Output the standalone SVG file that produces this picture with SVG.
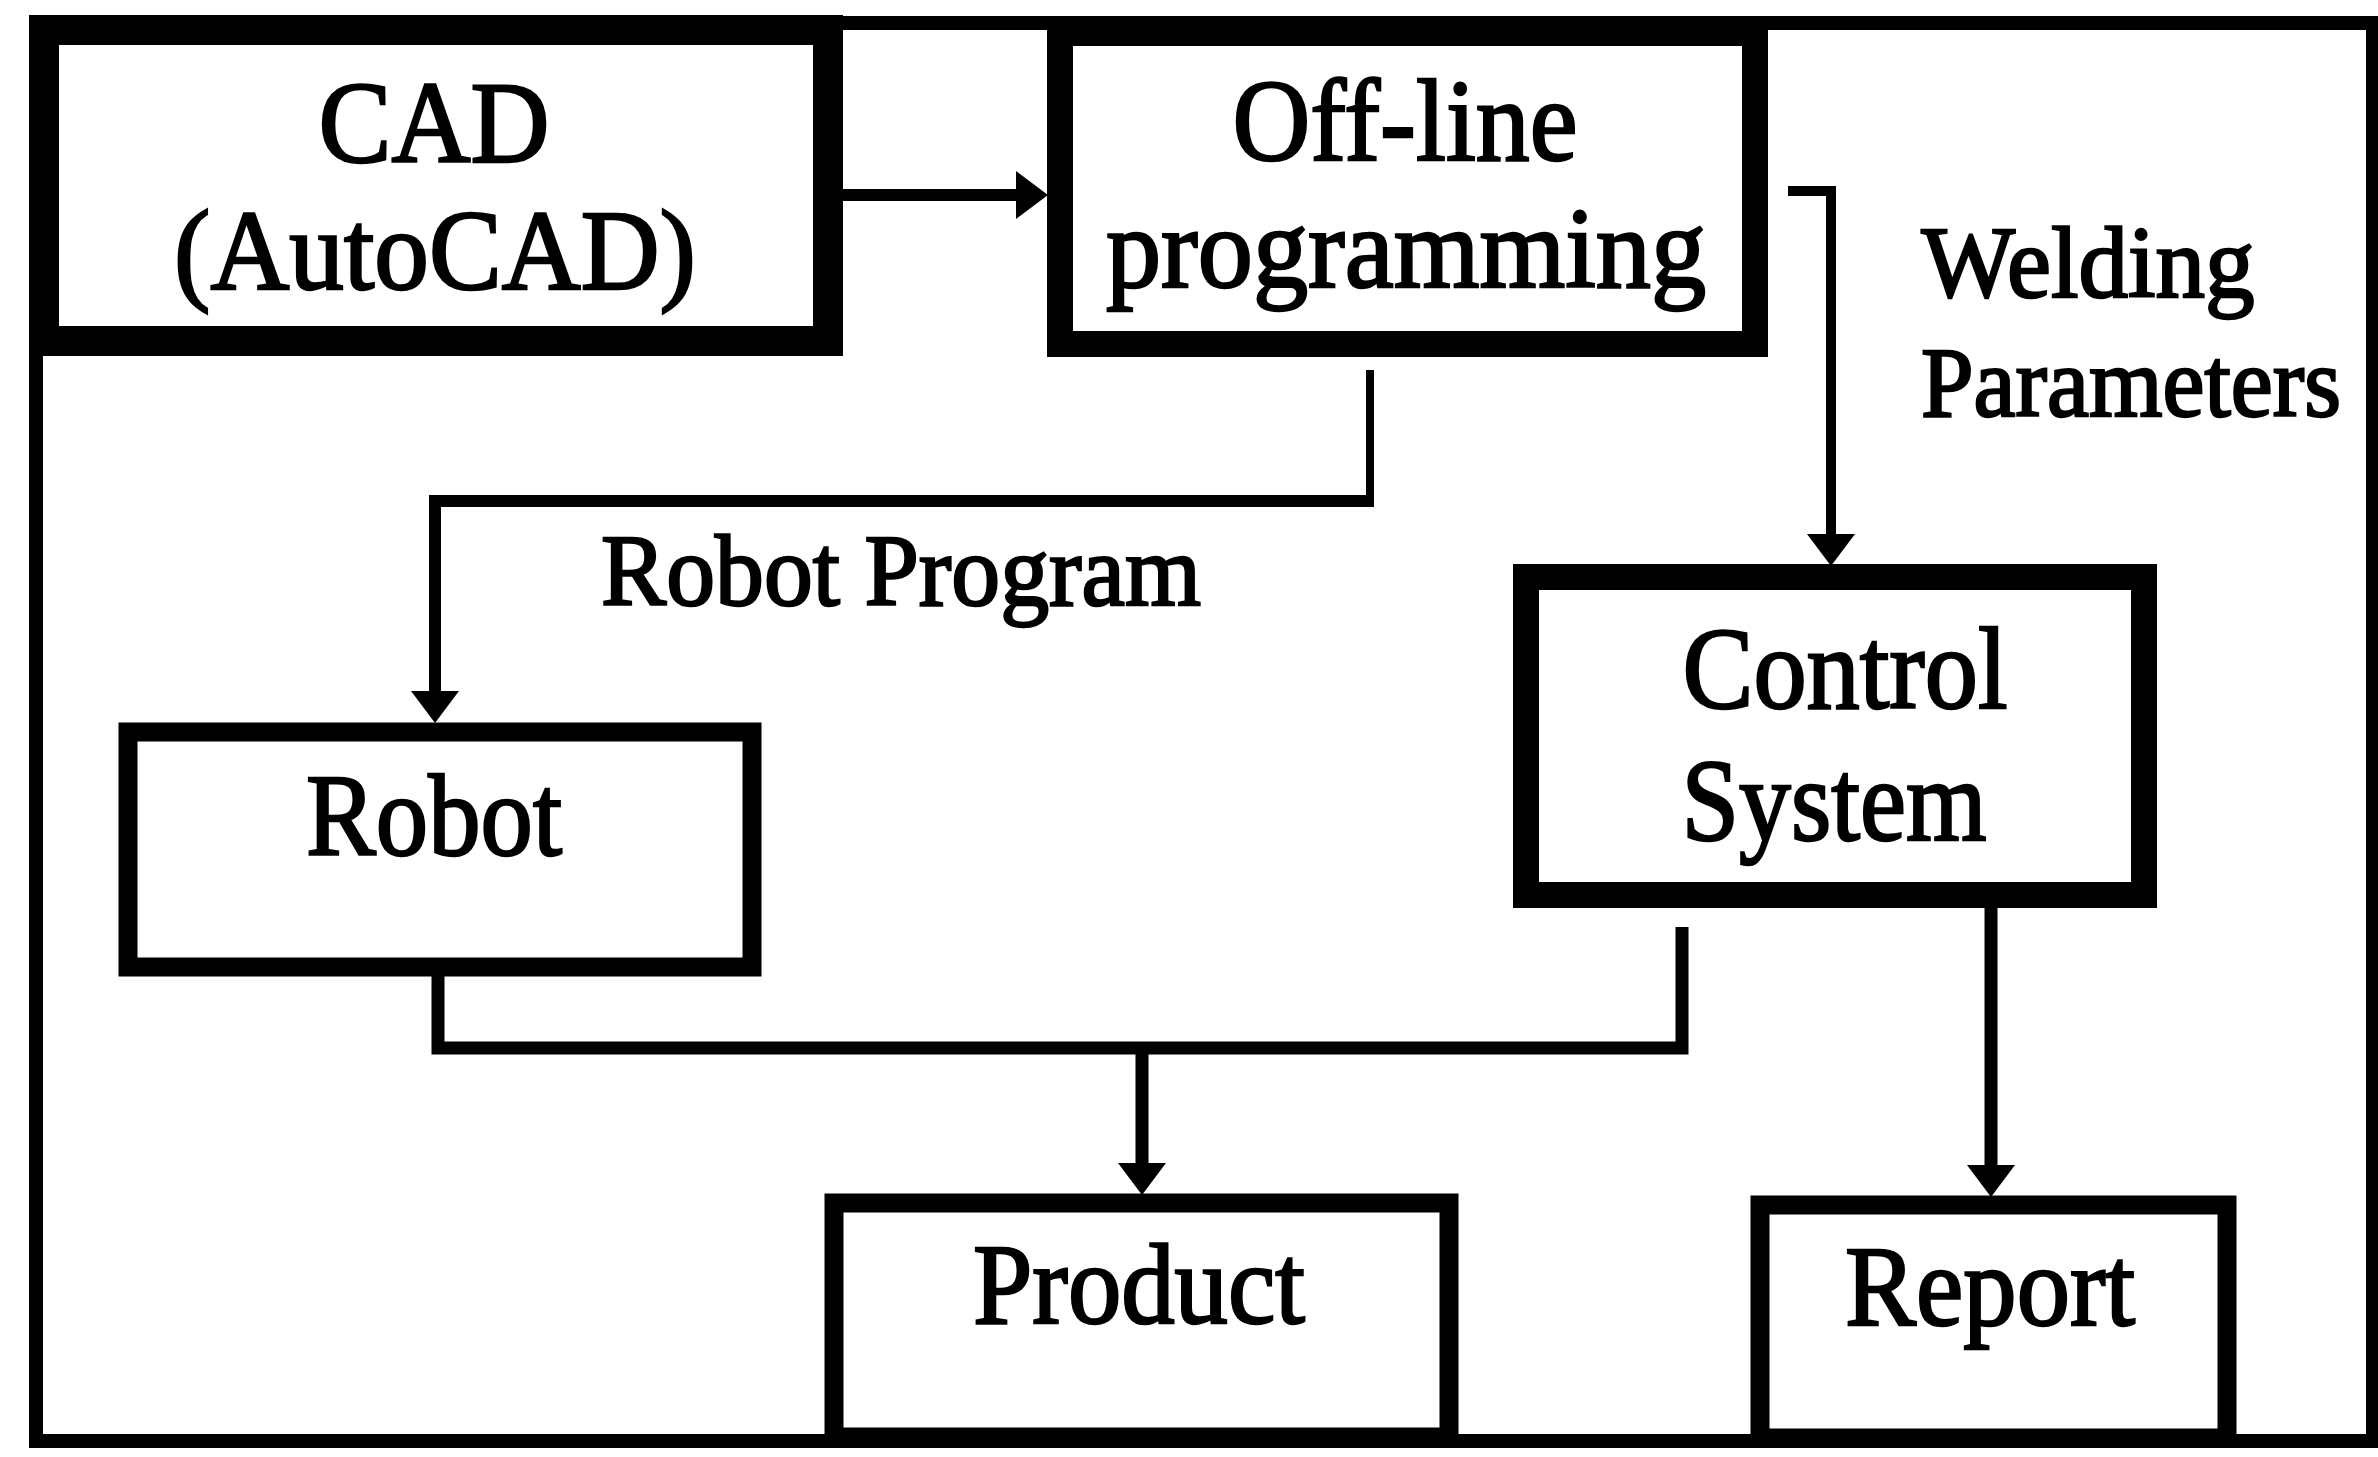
<svg xmlns="http://www.w3.org/2000/svg" width="2378" height="1457" viewBox="0 0 2378 1457">
<style>
.box{fill:none;stroke:#000;stroke-linejoin:miter}
.lbl{font-family:"Liberation Serif","Times New Roman",serif;fill:#000;stroke:#000;stroke-width:2.5;text-anchor:middle}
.con{fill:none;stroke:#000;stroke-linejoin:miter}
</style>
<defs>
<marker id="ah" markerUnits="userSpaceOnUse" markerWidth="34" markerHeight="50" refX="0" refY="24" orient="auto" overflow="visible">
<path d="M0,0 L32,24 L0,48 z" fill="#000"/>
</marker>
</defs>
<rect width="2378" height="1457" fill="#fff"/>
<g id="frame">
<rect x="36" y="23" width="2337" height="1418" fill="none" stroke="#000" stroke-width="14"/>
</g>
<g id="connectors">
<path class="con" stroke-width="12" d="M842 195 H1016" marker-end="url(#ah)"/>
<path class="con" stroke-width="8" d="M1370 370 V501"/>
<path class="con" stroke-width="12" d="M1374 501 H435 V691" marker-end="url(#ah)"/>
<path class="con" stroke-width="10" d="M1788 191 H1831 V534" marker-end="url(#ah)"/>
<path class="con" stroke-width="13" d="M438 976 V1048 H1682 V927"/>
<path class="con" stroke-width="13" d="M1142 1048 V1163" marker-end="url(#ah)"/>
<path class="con" stroke-width="13" d="M1991 907 V1165" marker-end="url(#ah)"/>
</g>
<g id="cad">
<rect class="box" x="44" y="30" width="784" height="311" stroke-width="30"/>
<text class="lbl" x="434" y="162" font-size="116" textLength="231" lengthAdjust="spacingAndGlyphs">CAD</text>
<text class="lbl" x="435" y="289" font-size="114" textLength="522" lengthAdjust="spacingAndGlyphs">(AutoCAD)</text>
</g>
<g id="offline">
<rect class="box" x="1060" y="33" width="695" height="311" stroke-width="26"/>
<text class="lbl" x="1405" y="160" font-size="116" textLength="345" lengthAdjust="spacingAndGlyphs">Off-line</text>
<text class="lbl" x="1406" y="287" font-size="114" textLength="600" lengthAdjust="spacingAndGlyphs">programming</text>
</g>
<g id="welding-label">
<text class="lbl" x="2088" y="297" font-size="102" textLength="333" lengthAdjust="spacingAndGlyphs">Welding</text>
<text class="lbl" x="2131" y="416" font-size="100" textLength="420" lengthAdjust="spacingAndGlyphs">Parameters</text>
</g>
<g id="robot-program-label">
<text class="lbl" x="901" y="605" font-size="102" textLength="600" lengthAdjust="spacingAndGlyphs">Robot Program</text>
</g>
<g id="robot">
<rect class="box" x="128" y="732" width="624" height="235" stroke-width="19"/>
<text class="lbl" x="434" y="855" font-size="116" textLength="256" lengthAdjust="spacingAndGlyphs">Robot</text>
</g>
<g id="control">
<rect class="box" x="1526" y="577" width="618" height="318" stroke-width="26"/>
<text class="lbl" x="1845" y="708" font-size="116" textLength="325" lengthAdjust="spacingAndGlyphs">Control</text>
<text class="lbl" x="1834" y="840" font-size="116" textLength="305" lengthAdjust="spacingAndGlyphs">System</text>
</g>
<g id="product">
<rect class="box" x="834" y="1203" width="615" height="234" stroke-width="19"/>
<text class="lbl" x="1139" y="1323" font-size="114" textLength="332" lengthAdjust="spacingAndGlyphs">Product</text>
</g>
<g id="report">
<rect class="box" x="1760" y="1205" width="467" height="233" stroke-width="19"/>
<text class="lbl" x="1990" y="1325" font-size="114" textLength="290" lengthAdjust="spacingAndGlyphs">Report</text>
</g>
</svg>
